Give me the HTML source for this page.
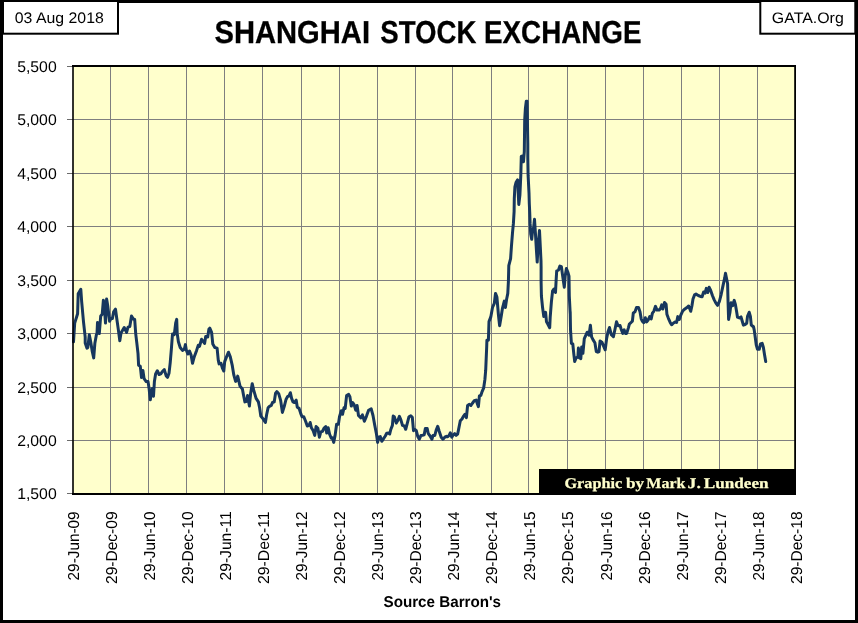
<!DOCTYPE html>
<html lang="en"><head><meta charset="utf-8"><title>Shanghai Stock Exchange</title>
<style>
html,body{margin:0;padding:0;background:#fff;}
body{width:858px;height:623px;overflow:hidden;font-family:"Liberation Sans",sans-serif;}
svg{display:block;}
text{font-family:"Liberation Sans",sans-serif;fill:#000;text-rendering:geometricPrecision;}
.ser{font-family:"Liberation Serif",serif;}
</style></head><body>
<svg width="858" height="623" viewBox="0 0 858 623">
<rect x="0" y="0" width="858" height="623" fill="#fff"/>
<rect x="1.5" y="1.5" width="855" height="620" fill="none" stroke="#000" stroke-width="3"/>
<rect x="3" y="1" width="115" height="32.7" fill="#fff" stroke="#000" stroke-width="2"/>
<rect x="760.3" y="1" width="95" height="32.7" fill="#fff" stroke="#000" stroke-width="2"/>
<rect x="856" y="0" width="2" height="40" fill="#000"/>
<text x="59.3" y="23.1" font-size="15.3" text-anchor="middle" textLength="89" lengthAdjust="spacingAndGlyphs">03 Aug 2018</text>
<text x="807.8" y="22.9" font-size="15.2" text-anchor="middle" textLength="72" lengthAdjust="spacingAndGlyphs">GATA.Org</text>
<text y="43.4" font-size="31.8" stroke="#000" stroke-width="0.3" font-weight="bold"><tspan x="214.5" textLength="155.5" lengthAdjust="spacingAndGlyphs">SHANGHAI</tspan> <tspan x="380.3" textLength="96" lengthAdjust="spacingAndGlyphs">STOCK</tspan> <tspan x="484" textLength="157.5" lengthAdjust="spacingAndGlyphs">EXCHANGE</tspan></text>
<rect x="73" y="66" width="722" height="428" fill="#ffffcc"/>
<path d="M110.50 66V494M148.50 66V494M186.50 66V494M224.50 66V494M262.50 66V494M301.50 66V494M339.50 66V494M377.50 66V494M415.50 66V494M452.50 66V494M491.50 66V494M528.50 66V494M567.50 66V494M605.50 66V494M643.50 66V494M681.50 66V494M719.50 66V494M757.50 66V494M73 119.50H795M73 173.50H795M73 226.50H795M73 280.50H795M73 333.50H795M73 387.50H795M73 440.50H795" stroke="#7f7f7f" stroke-width="1" fill="none" shape-rendering="crispEdges"/>
<path d="M67 66.5H73M67 119.5H73M67 173.5H73M67 226.5H73M67 280.5H73M67 333.5H73M67 387.5H73M67 440.5H73M67 493.5H73" stroke="#6b6b6b" stroke-width="1" fill="none" shape-rendering="crispEdges"/>
<path d="M73.5 341.8 L74.7 323.1 L77.6 313.7 L78.2 293.8 L80.8 289.3 L81.7 302.0 L83.5 321.9 L85.2 337.1 L85.2 342.9 L87.0 348.2 L87.8 347.6 L89.3 334.7 L90.9 342.9 L92.3 351.7 L93.7 357.9 L94.9 342.9 L96.4 334.7 L97.0 333.6 L97.5 322.5 L99.3 333.6 L100.7 316.0 L102.2 314.3 L103.4 300.2 L104.6 310.2 L105.5 323.1 L106.6 299.0 L107.7 305.5 L109.6 321.3 L111.0 318.4 L112.4 318.6 L113.6 311.9 L115.5 309.2 L116.9 319.5 L118.4 330.1 L119.8 340.7 L121.0 333.0 L124.2 327.5 L126.6 332.4 L128.0 327.2 L129.8 326.6 L131.5 316.0 L133.3 319.0 L134.7 319.5 L135.7 333.6 L136.8 342.9 L138.0 353.4 L138.6 365.2 L140.3 366.3 L141.5 377.5 L142.9 370.4 L144.1 378.7 L146.2 381.6 L148.0 381.6 L149.1 388.6 L150.3 399.8 L151.5 391.0 L152.3 388.6 L153.5 396.2 L154.4 381.6 L155.6 373.9 L157.3 370.7 L159.1 374.5 L160.8 373.9 L162.4 371.5 L164.3 369.6 L166.1 375.7 L167.5 377.4 L169.0 373.3 L170.2 362.8 L171.4 348.7 L172.5 334.0 L174.3 334.6 L175.7 322.9 L176.7 319.4 L177.2 333.4 L178.4 341.7 L180.2 347.5 L182.5 350.4 L184.3 349.3 L185.4 344.6 L186.3 349.9 L187.8 354.0 L189.5 351.0 L191.1 355.1 L192.5 363.3 L194.2 356.9 L196.6 350.4 L198.3 345.2 L199.5 346.3 L201.6 339.3 L203.0 341.1 L204.6 343.4 L205.7 336.4 L207.7 337.0 L208.9 329.3 L209.8 328.2 L211.6 332.3 L212.8 344.0 L214.8 347.5 L217.1 348.1 L218.3 360.4 L219.1 363.9 L221.0 363.3 L222.4 368.0 L223.8 371.0 L224.7 361.6 L226.5 356.9 L228.5 352.2 L230.3 356.9 L232.3 365.7 L233.8 374.9 L235.6 381.4 L236.7 380.2 L237.7 376.1 L238.8 380.8 L240.0 386.1 L242.4 389.0 L243.5 394.9 L244.9 401.9 L246.7 401.3 L247.6 395.4 L249.4 406.0 L250.6 393.7 L252.2 383.7 L253.7 390.2 L256.1 398.4 L258.4 401.9 L259.6 407.8 L260.8 416.0 L263.1 418.9 L265.4 422.4 L266.6 414.8 L268.1 407.8 L269.5 406.3 L271.3 405.4 L272.5 402.5 L274.2 401.9 L275.6 393.1 L276.8 391.6 L278.7 393.7 L280.7 400.7 L282.4 412.4 L284.2 406.6 L286.0 399.5 L287.5 396.6 L288.9 396.0 L290.4 392.7 L291.6 398.4 L293.0 401.9 L294.4 402.5 L296.2 400.2 L297.3 407.3 L299.1 408.4 L300.6 413.1 L302.0 416.7 L303.8 416.7 L305.6 421.3 L307.3 426.0 L309.1 425.4 L310.2 422.5 L311.4 427.8 L313.2 430.7 L314.7 435.4 L316.1 426.6 L317.9 428.4 L319.4 437.2 L320.8 431.9 L322.5 431.3 L324.3 427.8 L325.7 426.6 L326.7 433.1 L328.2 427.8 L329.6 434.2 L331.3 438.3 L332.5 437.8 L333.7 442.4 L335.1 435.4 L336.6 424.3 L338.4 424.3 L339.5 416.7 L341.3 410.8 L342.5 414.3 L344.0 407.9 L345.2 408.4 L346.6 395.6 L348.7 394.4 L349.9 396.7 L351.3 406.1 L352.7 402.6 L354.2 404.9 L355.7 410.2 L357.1 405.5 L358.5 415.5 L360.7 417.8 L362.4 414.9 L364.4 421.3 L366.5 416.1 L368.6 410.2 L371.2 408.8 L373.0 415.5 L374.7 424.9 L376.5 434.2 L377.6 442.4 L378.8 437.2 L380.3 436.6 L381.8 441.3 L383.4 438.9 L385.3 436.0 L386.7 433.3 L388.5 433.1 L389.7 434.0 L390.8 429.5 L392.4 425.4 L393.2 416.1 L394.3 416.7 L396.3 423.1 L397.9 420.2 L399.4 416.4 L400.8 419.6 L402.5 425.4 L404.3 426.0 L405.7 429.3 L407.2 423.7 L409.0 416.7 L410.8 415.7 L412.3 417.2 L413.5 430.7 L414.9 429.5 L416.3 430.7 L417.8 436.6 L419.3 439.2 L421.0 435.4 L422.5 435.2 L424.2 434.8 L425.4 428.4 L427.2 428.6 L428.3 433.7 L430.1 436.0 L431.9 439.2 L433.0 435.6 L434.8 435.4 L436.2 430.1 L437.7 426.3 L439.2 431.3 L441.2 437.2 L443.0 439.2 L444.8 437.2 L446.5 436.3 L447.7 436.8 L449.1 435.4 L450.3 432.8 L451.8 437.2 L453.3 434.8 L454.7 433.7 L456.1 435.4 L457.6 434.2 L458.8 428.4 L460.3 420.8 L462.0 419.0 L463.5 416.1 L465.0 414.3 L466.4 417.6 L467.6 405.5 L469.4 404.3 L470.9 405.5 L472.5 403.2 L472.6 403.0 L474.3 400.7 L476.1 400.1 L477.5 404.2 L478.4 406.7 L479.4 396.0 L480.8 395.4 L482.2 391.3 L483.7 387.8 L484.9 379.5 L485.7 370.2 L486.2 358.4 L486.7 346.7 L486.9 340.3 L488.4 340.3 L489.0 321.6 L490.8 316.9 L492.5 307.5 L494.3 303.4 L495.5 293.4 L496.9 297.0 L498.4 314.5 L499.6 325.7 L501.3 315.7 L502.5 308.1 L504.3 301.1 L505.4 307.5 L506.6 299.3 L507.8 293.4 L508.4 281.7 L508.7 270.0 L508.8 265.7 L510.6 258.6 L511.4 246.9 L512.5 232.8 L513.4 223.4 L514.1 211.7 L514.3 198.6 L514.9 186.9 L516.1 182.2 L517.6 179.9 L518.2 192.8 L518.8 204.5 L519.9 195.1 L520.8 175.2 L521.3 156.4 L522.7 155.8 L523.5 161.7 L524.3 151.7 L524.7 120.2 L525.4 108.4 L526.3 101.2 L527.1 101.2 L527.4 120.2 L527.8 143.6 L527.8 157.6 L528.1 175.2 L529.0 192.8 L529.3 203.5 L529.7 211.7 L530.1 223.4 L530.7 234.0 L531.7 239.3 L532.5 231.7 L533.7 227.0 L534.5 219.3 L535.4 232.8 L536.6 252.8 L537.2 262.1 L538.0 246.9 L539.5 230.5 L540.3 246.9 L541.0 261.0 L541.1 266.7 L541.1 282.0 L541.4 296.0 L542.6 307.8 L543.8 316.5 L545.6 312.4 L546.5 321.8 L547.9 324.2 L549.7 327.7 L550.2 317.1 L551.4 301.9 L552.6 290.8 L554.0 289.0 L555.5 292.5 L556.1 280.8 L556.7 270.8 L558.4 270.2 L559.9 266.1 L561.4 266.7 L562.5 274.9 L564.3 287.2 L565.2 276.1 L566.4 268.5 L567.8 272.0 L569.0 276.1 L569.3 296.0 L570.2 313.6 L570.2 311.7 L570.5 329.3 L571.4 343.4 L572.8 344.0 L573.8 353.9 L574.7 361.5 L576.1 358.0 L577.9 356.9 L578.4 348.1 L579.6 358.0 L580.8 358.6 L581.7 346.9 L582.9 353.3 L584.3 338.7 L586.1 334.6 L587.2 332.2 L589.0 335.2 L590.4 325.2 L591.6 336.9 L593.1 339.9 L594.9 342.8 L596.3 351.6 L597.8 352.2 L599.0 351.6 L600.1 341.0 L601.9 342.2 L603.7 346.3 L605.2 349.8 L606.6 338.7 L608.0 331.7 L609.5 327.5 L611.3 334.6 L613.4 336.6 L615.0 329.3 L616.5 321.7 L618.1 325.8 L620.1 325.6 L621.2 329.3 L622.8 333.4 L624.2 329.9 L625.3 333.4 L626.7 333.4 L628.3 328.1 L629.4 324.0 L631.2 322.3 L632.4 321.1 L633.3 312.9 L635.0 311.7 L636.5 307.6 L638.5 307.6 L640.0 311.7 L641.2 318.8 L642.3 321.1 L643.8 322.7 L645.3 317.8 L646.7 321.9 L648.1 320.1 L649.7 316.6 L651.2 318.9 L652.4 313.1 L653.8 311.3 L655.5 306.3 L657.0 310.1 L659.0 310.1 L660.6 308.4 L661.7 304.9 L662.9 309.0 L664.5 302.5 L666.1 304.3 L666.9 314.2 L668.4 318.3 L670.2 322.4 L671.6 324.8 L673.5 323.0 L675.4 321.9 L676.6 322.4 L677.8 316.6 L679.3 319.5 L680.7 315.4 L682.5 311.3 L684.2 309.5 L686.6 307.8 L688.7 306.0 L690.7 311.3 L691.9 306.0 L693.0 299.0 L694.6 294.9 L696.0 294.1 L698.3 295.5 L700.4 296.4 L702.1 296.7 L703.6 292.0 L705.1 293.1 L706.3 288.4 L707.7 292.5 L709.1 287.3 L710.6 290.2 L712.4 295.5 L714.1 299.6 L715.9 303.1 L717.6 305.4 L719.4 301.3 L721.2 294.3 L722.9 286.1 L724.7 277.9 L725.5 273.2 L726.4 277.9 L727.6 283.8 L728.0 300.2 L728.6 319.5 L729.9 312.8 L731.1 302.8 L732.6 305.7 L734.2 300.4 L735.4 304.5 L736.6 311.6 L737.5 317.2 L739.3 318.0 L741.0 316.9 L742.2 321.0 L743.4 325.1 L745.1 324.5 L746.7 323.3 L747.5 316.3 L749.2 312.2 L750.4 316.3 L751.3 325.1 L753.3 326.8 L753.4 326.4 L754.2 329.9 L755.2 337.0 L756.3 345.2 L757.5 349.3 L759.3 349.3 L760.4 344.0 L762.2 343.4 L763.4 347.5 L764.5 354.5 L765.7 361.6" stroke="#17375e" stroke-width="3" fill="none" stroke-linejoin="round" stroke-linecap="round"/>
<rect x="539" y="469" width="257" height="25.5" fill="#000"/>
<text class="ser" y="488" font-size="14.8" font-weight="bold" style="fill:#ffffcc;stroke:#ffffcc;stroke-width:0.25"><tspan x="564.5" textLength="57.7" lengthAdjust="spacingAndGlyphs">Graphic</tspan> <tspan x="626.0" textLength="18.1" lengthAdjust="spacingAndGlyphs">by</tspan> <tspan x="646.3" textLength="39.1" lengthAdjust="spacingAndGlyphs">Mark</tspan> <tspan x="687.6" textLength="13.2" lengthAdjust="spacingAndGlyphs">J.</tspan> <tspan x="703.7" textLength="64.9" lengthAdjust="spacingAndGlyphs">Lundeen</tspan></text>
<rect x="72" y="65" width="724" height="2" fill="#000"/><rect x="72" y="493" width="724" height="2" fill="#000"/><rect x="72.2" y="65" width="1.6" height="430" fill="#000"/><rect x="794.2" y="65" width="1.8" height="430" fill="#000"/>
<text x="56.7" y="72.00" font-size="15.5" text-anchor="end" textLength="39.5" lengthAdjust="spacingAndGlyphs">5,500</text>
<text x="56.7" y="125.00" font-size="15.5" text-anchor="end" textLength="39.5" lengthAdjust="spacingAndGlyphs">5,000</text>
<text x="56.7" y="179.00" font-size="15.5" text-anchor="end" textLength="39.5" lengthAdjust="spacingAndGlyphs">4,500</text>
<text x="56.7" y="232.00" font-size="15.5" text-anchor="end" textLength="39.5" lengthAdjust="spacingAndGlyphs">4,000</text>
<text x="56.7" y="286.00" font-size="15.5" text-anchor="end" textLength="39.5" lengthAdjust="spacingAndGlyphs">3,500</text>
<text x="56.7" y="339.00" font-size="15.5" text-anchor="end" textLength="39.5" lengthAdjust="spacingAndGlyphs">3,000</text>
<text x="56.7" y="393.00" font-size="15.5" text-anchor="end" textLength="39.5" lengthAdjust="spacingAndGlyphs">2,500</text>
<text x="56.7" y="446.00" font-size="15.5" text-anchor="end" textLength="39.5" lengthAdjust="spacingAndGlyphs">2,000</text>
<text x="56.7" y="499.00" font-size="15.5" text-anchor="end" textLength="39.5" lengthAdjust="spacingAndGlyphs">1,500</text>
<text transform="translate(78.70 511.4) rotate(-90)" font-size="15.8" text-anchor="end" textLength="69" lengthAdjust="spacingAndGlyphs">29-Jun-09</text>
<text transform="translate(116.76 511.4) rotate(-90)" font-size="15.8" text-anchor="end" textLength="72.6" lengthAdjust="spacingAndGlyphs">29-Dec-09</text>
<text transform="translate(154.82 511.4) rotate(-90)" font-size="15.8" text-anchor="end" textLength="69" lengthAdjust="spacingAndGlyphs">29-Jun-10</text>
<text transform="translate(192.88 511.4) rotate(-90)" font-size="15.8" text-anchor="end" textLength="72.6" lengthAdjust="spacingAndGlyphs">29-Dec-10</text>
<text transform="translate(230.94 511.4) rotate(-90)" font-size="15.8" text-anchor="end" textLength="69" lengthAdjust="spacingAndGlyphs">29-Jun-11</text>
<text transform="translate(269.00 511.4) rotate(-90)" font-size="15.8" text-anchor="end" textLength="72.6" lengthAdjust="spacingAndGlyphs">29-Dec-11</text>
<text transform="translate(307.06 511.4) rotate(-90)" font-size="15.8" text-anchor="end" textLength="69" lengthAdjust="spacingAndGlyphs">29-Jun-12</text>
<text transform="translate(345.12 511.4) rotate(-90)" font-size="15.8" text-anchor="end" textLength="72.6" lengthAdjust="spacingAndGlyphs">29-Dec-12</text>
<text transform="translate(383.18 511.4) rotate(-90)" font-size="15.8" text-anchor="end" textLength="69" lengthAdjust="spacingAndGlyphs">29-Jun-13</text>
<text transform="translate(421.24 511.4) rotate(-90)" font-size="15.8" text-anchor="end" textLength="72.6" lengthAdjust="spacingAndGlyphs">29-Dec-13</text>
<text transform="translate(459.30 511.4) rotate(-90)" font-size="15.8" text-anchor="end" textLength="69" lengthAdjust="spacingAndGlyphs">29-Jun-14</text>
<text transform="translate(497.36 511.4) rotate(-90)" font-size="15.8" text-anchor="end" textLength="72.6" lengthAdjust="spacingAndGlyphs">29-Dec-14</text>
<text transform="translate(535.42 511.4) rotate(-90)" font-size="15.8" text-anchor="end" textLength="69" lengthAdjust="spacingAndGlyphs">29-Jun-15</text>
<text transform="translate(573.48 511.4) rotate(-90)" font-size="15.8" text-anchor="end" textLength="72.6" lengthAdjust="spacingAndGlyphs">29-Dec-15</text>
<text transform="translate(611.54 511.4) rotate(-90)" font-size="15.8" text-anchor="end" textLength="69" lengthAdjust="spacingAndGlyphs">29-Jun-16</text>
<text transform="translate(649.60 511.4) rotate(-90)" font-size="15.8" text-anchor="end" textLength="72.6" lengthAdjust="spacingAndGlyphs">29-Dec-16</text>
<text transform="translate(687.66 511.4) rotate(-90)" font-size="15.8" text-anchor="end" textLength="69" lengthAdjust="spacingAndGlyphs">29-Jun-17</text>
<text transform="translate(725.72 511.4) rotate(-90)" font-size="15.8" text-anchor="end" textLength="72.6" lengthAdjust="spacingAndGlyphs">29-Dec-17</text>
<text transform="translate(763.78 511.4) rotate(-90)" font-size="15.8" text-anchor="end" textLength="69" lengthAdjust="spacingAndGlyphs">29-Jun-18</text>
<text transform="translate(801.84 511.4) rotate(-90)" font-size="15.8" text-anchor="end" textLength="72.6" lengthAdjust="spacingAndGlyphs">29-Dec-18</text>
<text x="442.3" y="606.8" font-size="15.6" font-weight="bold" text-anchor="middle" textLength="117.5" lengthAdjust="spacingAndGlyphs">Source Barron's</text>
</svg>
</body></html>
